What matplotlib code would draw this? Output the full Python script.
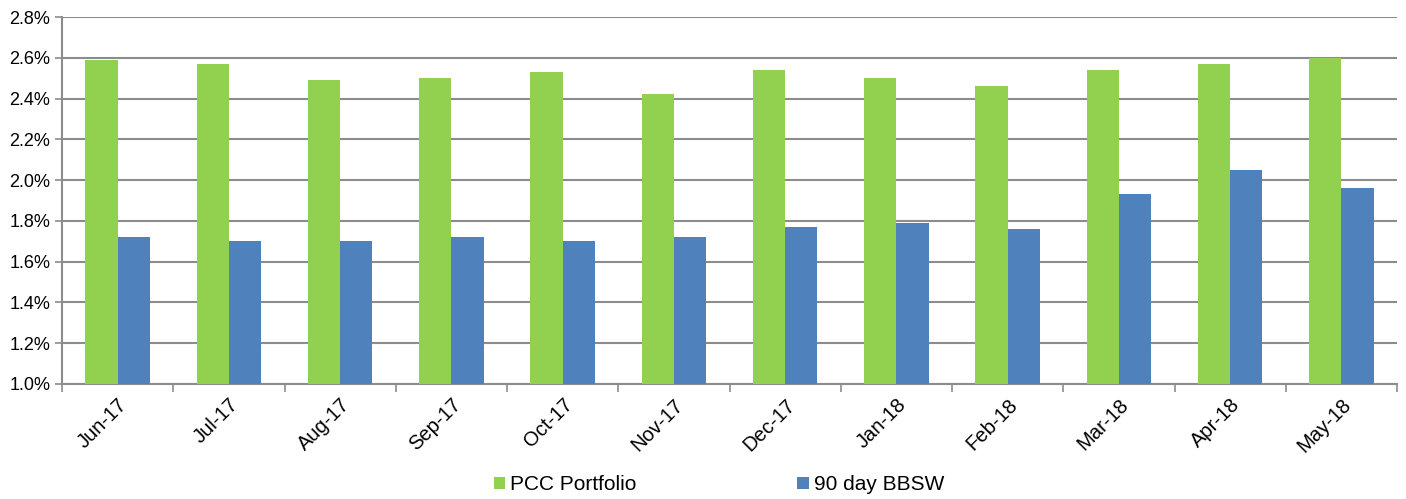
import numpy as np
import matplotlib.pyplot as plt
from matplotlib.ticker import FuncFormatter, FixedLocator

plt.rcParams['font.family'] = ['Liberation Sans', 'DejaVu Sans']

months = ['Jun-17', 'Jul-17', 'Aug-17', 'Sep-17', 'Oct-17', 'Nov-17',
          'Dec-17', 'Jan-18', 'Feb-18', 'Mar-18', 'Apr-18', 'May-18']
pcc = [2.59, 2.57, 2.49, 2.50, 2.53, 2.42, 2.54, 2.50, 2.46, 2.54, 2.57, 2.60]
bbsw = [1.72, 1.70, 1.70, 1.72, 1.70, 1.72, 1.77, 1.79, 1.76, 1.93, 2.05, 1.96]

fig = plt.figure(figsize=(14.06, 4.99), dpi=100)
ax = fig.add_axes([62/1406, 1 - 384/499, (1397-62)/1406, (384-17)/499])

x = np.arange(len(months))
w = 0.29
ax.bar(x - w/2, pcc, w, color='#92D050', label='PCC Portfolio', zorder=3)
ax.bar(x + w/2, bbsw, w, color='#4F81BD', label='90 day BBSW', zorder=3)

ax.set_ylim(1.0, 2.8)
ax.set_xlim(-0.5, len(months) - 0.5)
ax.set_yticks(np.arange(1.0, 2.81, 0.2))
ax.yaxis.set_major_formatter(FuncFormatter(lambda v, p: f'{v:.1f}%'))
ax.yaxis.grid(True, color='#8c8c8c', linewidth=1.5, zorder=0)

ax.set_xticks(x)
ax.set_xticklabels(months, rotation=45, ha='right', rotation_mode='anchor', fontsize=14.5)
ax.tick_params(axis='x', length=0, pad=8)
ax.xaxis.set_minor_locator(FixedLocator(np.arange(-0.5, len(months), 1.0)))
ax.tick_params(axis='x', which='minor', length=6, color='#8c8c8c', width=1.2)
ax.tick_params(axis='y', labelsize=13, length=5, color='#8c8c8c', width=1.2)

for s in ['top', 'right']:
    ax.spines[s].set_visible(False)
for s in ['left', 'bottom']:
    ax.spines[s].set_color('#8c8c8c')
    ax.spines[s].set_linewidth(1.5)

fig.legend(loc='center', bbox_to_anchor=(719/1406, 1 - 485/499), ncol=2, frameon=False,
           fontsize=15, handlelength=0.55, handleheight=0.55, handletextpad=0.25,
           columnspacing=7.7, borderpad=0, borderaxespad=0)

fig.savefig('out.png', dpi=100)
